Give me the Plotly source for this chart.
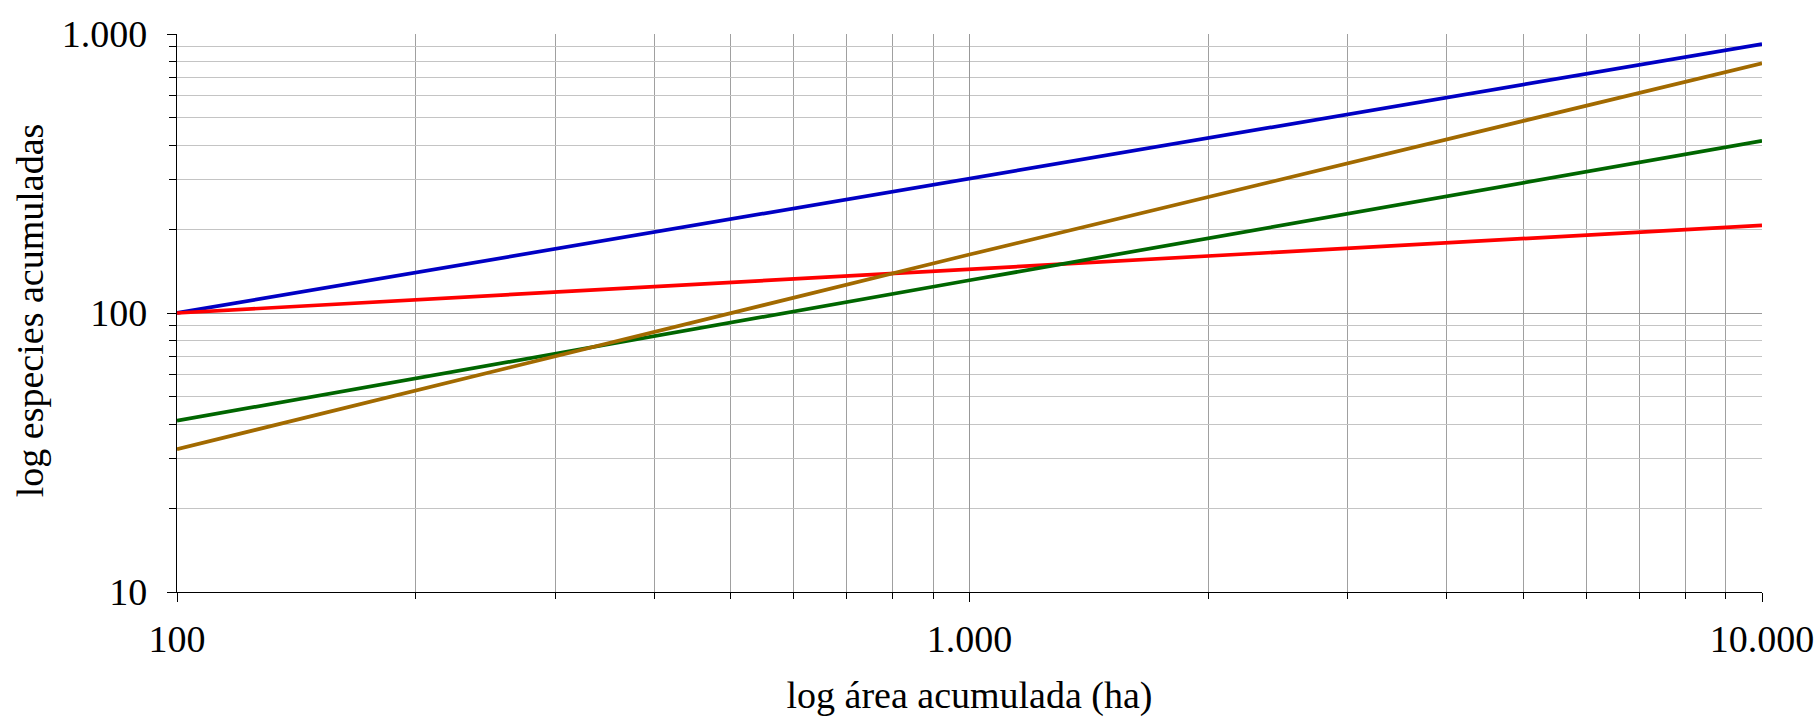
import plotly.graph_objects as go

area_ha = [100, 1000, 10000]
especies_azul = [100, 303, 920]
especies_rojo = [100, 143.5, 206]
especies_verde = [41.1, 131, 414]
especies_marron = [32.5, 162, 785]

series = [
    ("azul", especies_azul, "#0000C4"),
    ("rojo", especies_rojo, "#FF0000"),
    ("verde", especies_verde, "#006600"),
    ("marron", especies_marron, "#A26A00"),
]

FONT = "Liberation Serif"
FS = 38
FS_TITLE = 38

fig = go.Figure()
for name, vals, col in series:
    fig.add_trace(go.Scatter(x=area_ha, y=vals, mode="lines", name=name,
                             line=dict(color=col, width=3.7)))

fig.update_layout(
    width=1817, height=717,
    margin=dict(l=176.5, r=55.3, t=34, b=125.3),
    paper_bgcolor="white", plot_bgcolor="white",
    showlegend=False,
    separators=",.",
    font=dict(family=FONT, size=FS, color="black"),
)

fig.update_xaxes(
    type="log", range=[2, 4], dtick=1, tickformat=",d",
    showline=True, linecolor="black", linewidth=1.3,
    ticks="outside", ticklen=9, tickcolor="black",
    showgrid=True, gridcolor="#989898", gridwidth=1,
    zeroline=False, ticklabelstandoff=4, automargin=False,
    ticklabeloverflow="allow",
    tickfont=dict(family=FONT, size=FS),
    title=dict(text="log área acumulada (ha)", font=dict(family=FONT, size=FS_TITLE), standoff=31),
    minor=dict(dtick="D1", showgrid=True, gridcolor="#A0A0A0", gridwidth=1,
               ticks="outside", ticklen=6, tickcolor="black"),
)
fig.update_yaxes(
    type="log", range=[1, 3], dtick=1, tickformat=",d",
    showline=True, linecolor="black", linewidth=1.3,
    ticks="outside", ticklen=9, tickcolor="black",
    showgrid=True, gridcolor="#999999", gridwidth=1,
    zeroline=False, ticklabelstandoff=12, automargin=False,
    ticklabeloverflow="allow",
    tickfont=dict(family=FONT, size=FS),
    minor=dict(dtick="D1", showgrid=True, gridcolor="#C4C4C4", gridwidth=1,
               ticks="outside", ticklen=7, tickcolor="black"),
)

fig.add_annotation(
    text="log especies acumuladas", textangle=-90,
    xref="paper", yref="paper", x=0, y=0.505,
    xanchor="center", yanchor="middle", xshift=-147, showarrow=False,
    font=dict(family=FONT, size=FS_TITLE, color="black"),
)

# remove the default 8px page margin so the 1817x717 figure fills the window
fig.write_html(
    "out.html",
    config={"displayModeBar": False},
    post_script="document.body.style.margin='0';document.body.style.overflow='hidden';",
)
